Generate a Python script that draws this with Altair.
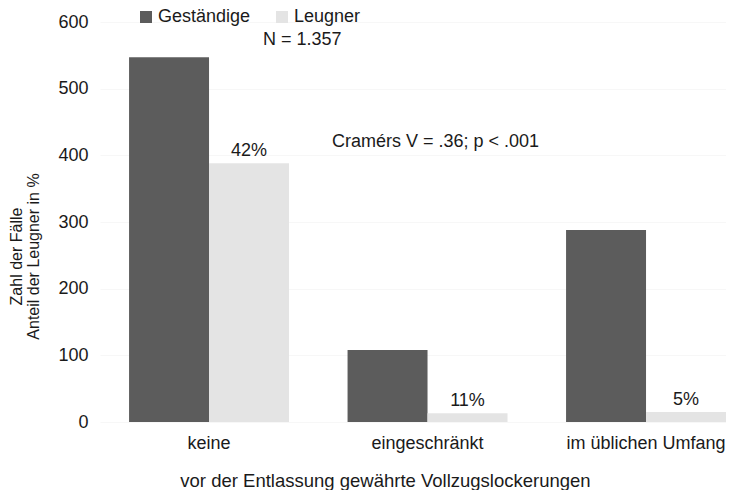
import altair as alt
import pandas as pd

categories = ["keine", "eingeschränkt", "im üblichen Umfang"]
series = ["Geständige", "Leugner"]
gestaendige = [547, 108, 288]
leugner = [388, 13, 15]
pct_labels = ["42%", "11%", "5%"]

rows = []
for i, c in enumerate(categories):
    rows.append({"cat": c, "grp": "Geständige", "val": gestaendige[i], "pct": ""})
    rows.append({"cat": c, "grp": "Leugner", "val": leugner[i], "pct": pct_labels[i]})
df = pd.DataFrame(rows)

FONT = "Liberation Sans"
TXT = "#1a1a1a"

x = alt.X("cat:N", sort=categories,
          scale=alt.Scale(paddingInner=0.268, paddingOuter=0.0665, align=1),
          axis=alt.Axis(title="vor der Entlassung gewährte Vollzugslockerungen",
                        labelAngle=0, labelFontSize=18, labelPadding=12,
                        ticks=False, domain=False, labelColor=TXT,
                        titleFontSize=18.5, titleFontWeight="normal", titleColor=TXT,
                        titleX=285, titleY=64, titleBaseline="alphabetic"))
xo = alt.XOffset("grp:N", sort=series, scale=alt.Scale(paddingInner=0, paddingOuter=0))
y = alt.Y("val:Q", scale=alt.Scale(domain=[0, 600]),
          axis=alt.Axis(values=[0, 100, 200, 300, 400, 500, 600],
                        title=["Zahl der Fälle", "Anteil der Leugner in %"],
                        titleFontSize=16, titleFontWeight="normal", titleColor=TXT,
                        titleLineHeight=17, titleX=-92, titleY=234, titleBaseline="top",
                        titleAngle=270,
                        labelFontSize=18, labelPadding=12, labelColor=TXT,
                        ticks=False, domain=False, grid=True, gridColor="#f7f7f7"))

bars = alt.Chart(df).mark_bar().encode(
    x=x, xOffset=xo, y=y,
    color=alt.Color("grp:N", sort=series,
                    scale=alt.Scale(domain=series, range=["#5c5c5c", "#e4e4e4"]),
                    legend=alt.Legend(title=None, orient="none", direction="horizontal",
                                      legendX=37, legendY=-14, symbolType="square",
                                      symbolSize=144, symbolStrokeWidth=0,
                                      labelFontSize=18, labelColor=TXT,
                                      labelOffset=3, columnPadding=22, padding=0))
)

labels = alt.Chart(df[df["grp"] == "Leugner"]).mark_text(
    fontSize=18, font=FONT, color=TXT, baseline="alphabetic", dy=-7
).encode(x=alt.X("cat:N", sort=categories), xOffset=alt.XOffset("grp:N", sort=series),
         y="val:Q", text="pct:N")

ann = pd.DataFrame({"t": ["N = 1.357", "Cramérs V = .36; p < .001"],
                    "px": [163, 232], "py": [17.5, 119.5]})
notes = alt.Chart(ann).mark_text(fontSize=18, font=FONT, color=TXT,
                                 align="left", baseline="middle").encode(
    x=alt.X("px:Q", scale=None), y=alt.Y("py:Q", scale=None), text="t:N")

chart = alt.layer(bars, labels, notes).properties(
    width=626, height=400,
    autosize=alt.AutoSizeParams(type="none"),
    padding={"left": 92, "top": 14, "right": 0, "bottom": 68}
).configure(font=FONT).configure_view(stroke=None)

chart.save("out.html", embed_options={"renderer": "svg", "actions": False})
